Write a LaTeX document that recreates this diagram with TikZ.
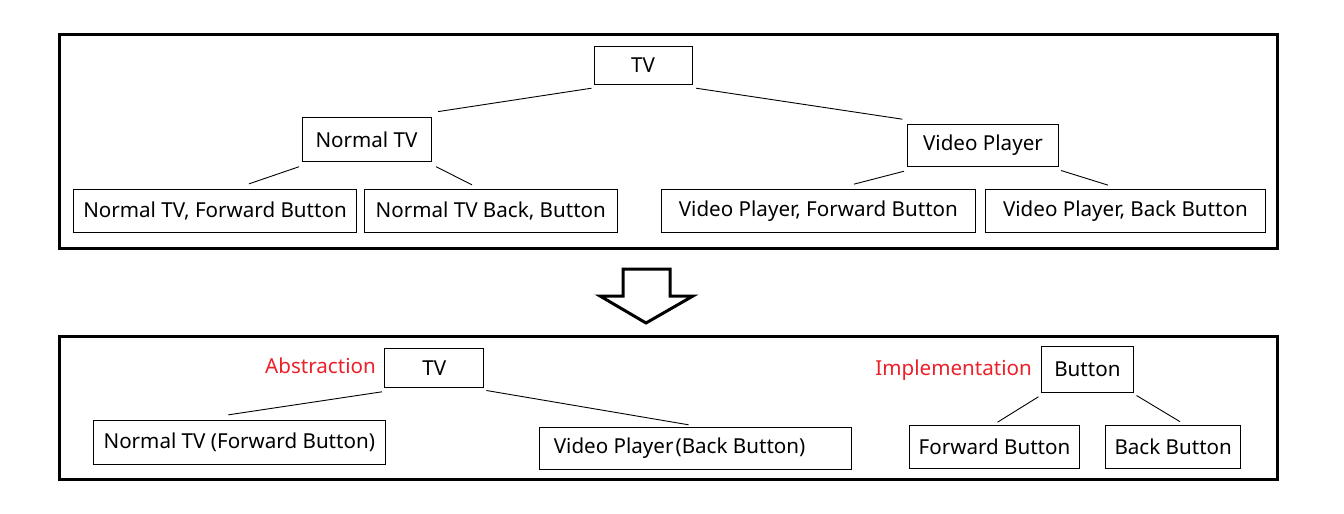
\documentclass[tikz,border=0pt]{standalone}
\usepackage{fontspec}
\setmainfont{Noto Sans}
\usetikzlibrary{calc}
\definecolor{lblred}{RGB}{236,32,40}
\tikzset{
  box/.style={draw=black, line width=1pt, inner sep=0pt, font=\fontsize{20.6}{24}\selectfont, anchor=center},
  frame/.style={draw=black, line width=3pt},
  conn/.style={draw=black, line width=0.9pt},
  lbl/.style={text=lblred, inner sep=0pt, font=\fontsize{20.6}{24}\selectfont, anchor=east},
  blockarrow/.style={draw=black, line width=3pt, line join=miter, fill=white}
}
\begin{document}
\begin{tikzpicture}[x=1pt, y=-1pt]
\useasboundingbox (0,0) rectangle (1344,514);
% frames
\draw[frame] (59,34) rectangle (1277,248);
\draw[frame] (59,336) rectangle (1277,479);
% top tree
\node[box, minimum width=98pt, minimum height=38pt] (tv) at (643,65) {TV};
\node[box, minimum width=129pt, minimum height=44pt] (ntv) at (366.5,139.5) {Normal TV};
\node[box, minimum width=151pt, minimum height=42pt] (vp) at (983,145.3) {Video Player};
\node[box, minimum width=283.6pt, minimum height=42.7pt] (nfb) at (215,210.7) {Normal TV, Forward Button};
\node[box, minimum width=253pt, minimum height=42.7pt] (nbb) at (490.8,210.7) {Normal TV Back, Button};
\node[box, minimum width=314pt, minimum height=42.7pt] (vfb) at (818.4,210.7) {Video Player, Forward Button};
\node[box, minimum width=280.7pt, minimum height=42.7pt] (vbb) at (1125.4,210.7) {Video Player, Back Button};
\draw[conn] ($(tv.south west)+(-2,3.7)$) -- ($(ntv.north east)+(6.6,-5.4)$);
\draw[conn] ($(tv.south east)+(3.6,3.7)$) -- ($(vp.north west)+(-4.6,-4.6)$);
\draw[conn] ($(ntv.south west)+(-2.4,4.7)$) -- ($(nfb.north)+(34,-5)$);
\draw[conn] ($(ntv.south east)+(4.6,4.7)$) -- ($(nbb.north)+(-18.8,-4)$);
\draw[conn] ($(vp.south west)+(-2.9,4.4)$) -- ($(vfb.north)+(35.6,-4.7)$);
\draw[conn] ($(vp.south east)+(2,3.7)$) -- ($(vbb.north)+(-17.4,-3.7)$);
% block arrow
\draw[blockarrow] (623,269) -- (670,269) -- (670,296) -- (693,296) -- (646,323) -- (600,296) -- (623,296) -- cycle;
% bottom left tree
\node[box, minimum width=98.7pt, minimum height=39pt] (btv) at (434.3,367.8) {TV};
\node[lbl] (abs) at (376,366) {Abstraction};
\node[box, minimum width=292.3pt, minimum height=44.3pt] (bntv) at (239.3,442.2) {Normal TV (Forward Button)};
\node[box, minimum width=312pt, minimum height=42pt] (bvp) at (695.6,448.3) {Video Player\hspace{2pt}(Back Button)\hspace*{32pt}};
\draw[conn] ($(btv.south west)+(-2.5,4)$) -- ($(bntv.north)+(-11,-4.7)$);
\draw[conn] ($(btv.south east)+(2.3,2.7)$) -- ($(bvp.north)+(-7,-2)$);
% bottom right tree
\node[box, minimum width=92pt, minimum height=46pt] (btn) at (1087.4,369.3) {Button};
\node[lbl] (impl) at (1032,370) {Implementation};
\node[box, minimum width=170pt, minimum height=43pt] (fb) at (994.5,446.8) {Forward Button};
\node[box, minimum width=135.2pt, minimum height=43pt] (bb) at (1173.2,446.8) {Back Button};
\draw[conn] ($(btn.south west)+(-2.5,4)$) -- ($(fb.north)+(3,-2.6)$);
\draw[conn] ($(btn.south east)+(2.6,2.7)$) -- ($(bb.north)+(7,-3)$);
\end{tikzpicture}
\end{document}
